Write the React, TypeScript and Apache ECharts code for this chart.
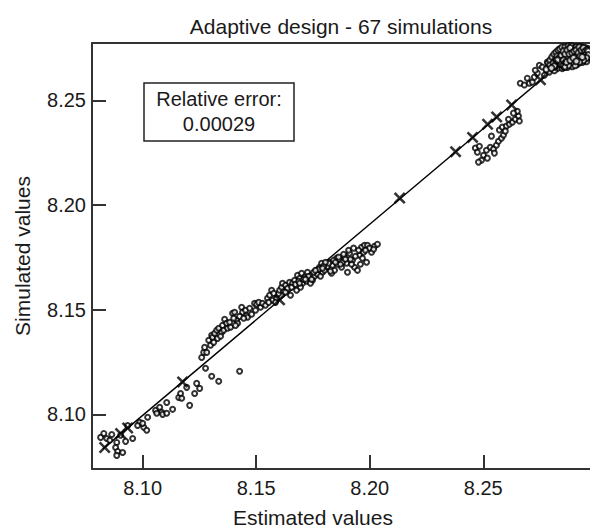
import React, { useEffect, useRef } from "react";
import * as echarts from "echarts";

const titleText = "Adaptive design - 67 simulations";
const xName = "Estimated values";
const yName = "Simulated values";
const boxLines = ["Relative error:", "0.00029"];
const tickValues = [8.1, 8.15, 8.2, 8.25];
const xRange = [8.0777, 8.297];
const yRange = [8.0739, 8.2774];

// validation points, [estimated, simulated]
const lowerCluster = [
  [8.0815, 8.089], [8.0829, 8.0909], [8.0842, 8.0885], [8.0864, 8.0904], [8.0886, 8.0866],
  [8.0881, 8.0842], [8.089, 8.0823], [8.0886, 8.0804], [8.0912, 8.0818], [8.0903, 8.09],
  [8.0925, 8.0871], [8.0956, 8.0885], [8.0987, 8.0962], [8.0978, 8.0947], [8.1005, 8.0938],
  [8.1018, 8.0924], [8.1, 8.0957], [8.1022, 8.0986], [8.1057, 8.1019], [8.1075, 8.1034],
  [8.1084, 8.101], [8.1062, 8.1005], [8.1088, 8.1], [8.1106, 8.1005], [8.1106, 8.1057],
  [8.1132, 8.1024], [8.1159, 8.1081], [8.1167, 8.11], [8.1172, 8.1077], [8.1207, 8.1043],
  [8.1229, 8.11], [8.1194, 8.1129], [8.1238, 8.1148], [8.1277, 8.122], [8.1304, 8.1182],
  [8.1335, 8.1158], [8.1427, 8.1206], [8.1251, 8.1124], [8.0855, 8.0876], [8.0934, 8.0947],
];

const upperBand = [
  [8.126, 8.1272], [8.1269, 8.1296],
  [8.1273, 8.132], [8.1291, 8.1354], [8.1304, 8.1378], [8.1308, 8.1368], [8.1317, 8.1387],
  [8.1326, 8.1402], [8.1335, 8.1411], [8.1348, 8.1392], [8.1352, 8.1425], [8.1361, 8.1454],
  [8.137, 8.1435], [8.1383, 8.144], [8.1396, 8.1483], [8.1405, 8.1488], [8.1414, 8.1449],
  [8.1418, 8.1435], [8.1436, 8.1512], [8.144, 8.1488], [8.1458, 8.1473], [8.1462, 8.1464],
  [8.1493, 8.1531], [8.1502, 8.1526], [8.1519, 8.1512], [8.155, 8.1555], [8.1559, 8.1569],
  [8.1568, 8.1593], [8.1572, 8.1545], [8.159, 8.1555], [8.1599, 8.1578],
  [8.1282, 8.1296], [8.1299, 8.133], [8.1313, 8.1344], [8.133, 8.1363], [8.1343, 8.1373],
  [8.1357, 8.1402], [8.1374, 8.1411], [8.1387, 8.1416], [8.1401, 8.1459], [8.1409, 8.1425],
  [8.1427, 8.1468], [8.1445, 8.1459], [8.1453, 8.1497], [8.1471, 8.1507], [8.148, 8.1478],
  [8.1497, 8.1497], [8.1511, 8.1535], [8.1528, 8.1531], [8.1541, 8.1521], [8.1555, 8.1535],
  [8.1577, 8.1578], [8.1585, 8.1535], [8.1603, 8.1593], [8.1621, 8.1588],
];

const middleBand = [
  [8.1612, 8.1607], [8.1616, 8.1626], [8.1629, 8.1617], [8.1638, 8.1602], [8.1647, 8.1631],
  [8.166, 8.1626], [8.1669, 8.1641], [8.1682, 8.1664], [8.1691, 8.165], [8.17, 8.1674],
  [8.1713, 8.1655], [8.1726, 8.1679], [8.1744, 8.1664], [8.1748, 8.1641], [8.1766, 8.1688],
  [8.1779, 8.1703], [8.1788, 8.1722], [8.1792, 8.1679], [8.181, 8.1698], [8.1823, 8.1727],
  [8.1832, 8.1674], [8.1845, 8.1688], [8.1854, 8.1746], [8.1867, 8.1736], [8.1876, 8.1703],
  [8.1889, 8.1751], [8.1898, 8.1722], [8.1902, 8.1679], [8.1911, 8.177], [8.1924, 8.1736],
  [8.1933, 8.1703], [8.1946, 8.1688], [8.1955, 8.176], [8.1964, 8.1798], [8.1977, 8.1808],
  [8.199, 8.1808], [8.2008, 8.1774], [8.1704, 8.1626], [8.1722, 8.1636], [8.1735, 8.165],
  [8.1757, 8.166], [8.177, 8.1669], [8.1801, 8.1688], [8.1814, 8.1707], [8.1836, 8.1712],
  [8.1858, 8.1717], [8.188, 8.1727], [8.192, 8.1717], [8.1968, 8.1746], [8.1986, 8.1727],
  [8.2021, 8.1803], [8.2034, 8.1813],
  [8.1656, 8.1607], [8.1673, 8.1621], [8.1687, 8.1636], [8.1709, 8.1645], [8.1731, 8.166],
  [8.1753, 8.1679], [8.1775, 8.1693], [8.1797, 8.1708], [8.1819, 8.1722], [8.1841, 8.1736],
  [8.1863, 8.1751], [8.1885, 8.1765], [8.1907, 8.1784], [8.1929, 8.1794], [8.1951, 8.1784],
  [8.1973, 8.1774], [8.1999, 8.1794], [8.2017, 8.1789], [8.1678, 8.1593], [8.1695, 8.1607],
  [8.1739, 8.1626], [8.1783, 8.166], [8.1827, 8.1684], [8.1871, 8.1717], [8.1915, 8.1741],
  [8.1959, 8.1717], [8.1629, 8.1583], [8.1651, 8.1569],
  [8.1691, 8.1626], [8.1717, 8.1645], [8.1744, 8.1645], [8.1761, 8.1688], [8.1792, 8.1698],
  [8.1805, 8.1727], [8.1849, 8.1727], [8.1893, 8.1741], [8.1937, 8.1755], [8.1981, 8.1784],
];

const rightCluster = [
  [8.2465, 8.2272], [8.2483, 8.2281], [8.2474, 8.2252], [8.2501, 8.2238], [8.2514, 8.2262],
  [8.2531, 8.2276], [8.2545, 8.2267], [8.2558, 8.2286], [8.2567, 8.2305], [8.258, 8.2319],
  [8.2589, 8.2334], [8.2571, 8.2358], [8.2584, 8.2372], [8.2602, 8.2377], [8.2615, 8.2386],
  [8.2628, 8.2396], [8.2641, 8.241], [8.2655, 8.2425], [8.265, 8.2448], [8.2633, 8.2439],
  [8.2597, 8.2353], [8.2549, 8.2248], [8.2518, 8.2224], [8.2492, 8.2214], [8.2479, 8.2205],
  [8.2536, 8.2329], [8.2611, 8.241], [8.2659, 8.2401],
];

const upperRight = [
  [8.2663, 8.2582], [8.2681, 8.2573], [8.2694, 8.2606], [8.2703, 8.2582], [8.2716, 8.2587],
  [8.2725, 8.2611], [8.2738, 8.263], [8.2747, 8.2668], [8.276, 8.2659], [8.2778, 8.2644],
  [8.2791, 8.2635], [8.2804, 8.2654], [8.2782, 8.2683], [8.2769, 8.262], [8.2729, 8.2644],
];

const topBlob = [
  [8.2791, 8.2663], [8.28, 8.2683], [8.2809, 8.2697], [8.2817, 8.2673], [8.2822, 8.2707],
  [8.2831, 8.2687], [8.2835, 8.2716], [8.2839, 8.2663], [8.2844, 8.2697], [8.2848, 8.273],
  [8.2853, 8.2678], [8.2857, 8.2711], [8.2861, 8.2692], [8.2866, 8.274], [8.287, 8.2721],
  [8.2875, 8.2683], [8.2879, 8.2707], [8.2883, 8.273], [8.2888, 8.2697], [8.2892, 8.2745],
  [8.2897, 8.2716], [8.2901, 8.2687], [8.2905, 8.2726], [8.291, 8.2702], [8.2914, 8.274],
  [8.2919, 8.2711], [8.2923, 8.2692], [8.2927, 8.273], [8.2932, 8.2716], [8.2936, 8.2745],
  [8.2941, 8.2702], [8.2945, 8.2726], [8.2949, 8.2711], [8.2954, 8.2735], [8.2958, 8.2716],
  [8.2963, 8.2726], [8.2826, 8.2654], [8.2813, 8.2644], [8.2861, 8.2668], [8.2883, 8.2673],
  [8.2905, 8.2683], [8.2927, 8.2702], [8.2949, 8.2697], [8.2897, 8.2735], [8.2848, 8.2702],
  [8.287, 8.2697], [8.2914, 8.2716], [8.2936, 8.2726], [8.2958, 8.2702], [8.2804, 8.2659],
  [8.2879, 8.274], [8.2901, 8.275], [8.2923, 8.2745], [8.2945, 8.274], [8.2844, 8.2683],
  [8.2888, 8.2721], [8.2919, 8.2697], [8.2941, 8.2716], [8.2857, 8.2726], [8.2831, 8.2702],
  [8.2778, 8.2649], [8.2787, 8.2678], [8.2795, 8.2692], [8.2804, 8.2707], [8.2813, 8.2721],
  [8.2822, 8.273], [8.2831, 8.274], [8.2839, 8.2745], [8.2848, 8.2754], [8.2861, 8.2754],
  [8.2875, 8.2759], [8.2888, 8.2759], [8.291, 8.2754], [8.2932, 8.2754], [8.2949, 8.275],
  [8.2963, 8.2745], [8.2963, 8.2707], [8.2954, 8.2687], [8.2936, 8.2683], [8.2914, 8.2673],
  [8.2892, 8.2663], [8.287, 8.2659], [8.2848, 8.2654], [8.2817, 8.2692], [8.2826, 8.2711],
  [8.2835, 8.2683], [8.2866, 8.2707], [8.2892, 8.2697], [8.2923, 8.2721], [8.2949, 8.2726],
  [8.2795, 8.2668], [8.2809, 8.2678], [8.2822, 8.2687], [8.2835, 8.2702], [8.2844, 8.2716],
  [8.2853, 8.2735], [8.2861, 8.2721], [8.287, 8.274], [8.2879, 8.2721], [8.2883, 8.275],
  [8.2892, 8.2726], [8.2901, 8.2735], [8.2905, 8.2707], [8.291, 8.274], [8.2919, 8.2726],
  [8.2923, 8.2754], [8.2927, 8.2711], [8.2932, 8.274], [8.2941, 8.275], [8.2945, 8.2711],
  [8.2949, 8.2735], [8.2954, 8.2721], [8.2958, 8.274], [8.2963, 8.2735], [8.2963, 8.2716],
  [8.2954, 8.2702], [8.2941, 8.2692], [8.2923, 8.2683], [8.2905, 8.2668], [8.2888, 8.2683],
  [8.2875, 8.2668], [8.2857, 8.2659], [8.2839, 8.2673], [8.2826, 8.2692], [8.2813, 8.2663],
  [8.28, 8.2654], [8.2853, 8.2692], [8.2866, 8.2683], [8.2883, 8.2692], [8.2897, 8.2702],
  [8.291, 8.2687], [8.2936, 8.2707],
];

// design points (crosses) and the fitted line
const designX = [8.0833, 8.0903, 8.0934, 8.1176, 8.1603, 8.2132, 8.2378, 8.2453, 8.2519, 8.2559, 8.2625, 8.2752, 8.2836];
const designY = [8.0842, 8.0908, 8.0935, 8.1155, 8.1547, 8.2033, 8.2255, 8.2323, 8.2386, 8.2421, 8.2478, 8.2598, 8.2668];
const fitX = [8.0825, 8.2905];
const fitY = [8.0835, 8.2735];

const FONT = "'Liberation Sans', Arial, Helvetica, sans-serif";
const INK = "#1a1a1a";
const AXIS = "#333";
const CROSS = "path://M0,1.5L1.5,0L5,3.5L8.5,0L10,1.5L6.5,5L10,8.5L8.5,10L5,6.5L1.5,10L0,8.5L3.5,5Z";

export default function App() {
  const ref = useRef<HTMLDivElement>(null);
  useEffect(() => {
    if (!ref.current) return;
    const chart = echarts.init(ref.current, undefined, { renderer: "svg" });
    const points = [...lowerCluster, ...upperBand, ...middleBand, ...rightCluster, ...upperRight];
    const tickFmt = (v: number) => v.toFixed(2);
    chart.setOption({
      animation: false,
      backgroundColor: "#fff",
      grid: { left: 92, right: 0, top: 43, bottom: 60 },
      xAxis: [
        {
          type: "value",
          min: xRange[0],
          max: xRange[1],
          position: "bottom",
          splitLine: { show: false },
          axisLine: { show: true, onZero: false, lineStyle: { color: AXIS, width: 2 } },
          axisTick: { show: true, inside: true, length: 14, customValues: tickValues, lineStyle: { color: AXIS, width: 2 } },
          axisLabel: { customValues: tickValues, formatter: tickFmt, fontSize: 20, fontFamily: FONT, color: INK, margin: 9 },
        },
        {
          type: "value",
          min: xRange[0],
          max: xRange[1],
          position: "top",
          splitLine: { show: false },
          axisLine: { show: true, onZero: false, lineStyle: { color: AXIS, width: 2 } },
          axisTick: { show: false },
          axisLabel: { show: false },
        },
      ],
      yAxis: {
        type: "value",
        min: yRange[0],
        max: yRange[1],
        name: yName,
        nameLocation: "middle",
        nameGap: 59,
        nameRotate: 90,
        nameTextStyle: { fontSize: 21, fontFamily: FONT, color: INK },
        splitLine: { show: false },
        axisLine: { show: true, onZero: false, lineStyle: { color: AXIS, width: 2 } },
        axisTick: { show: true, inside: true, length: 14, customValues: tickValues, lineStyle: { color: AXIS, width: 2 } },
        axisLabel: { customValues: tickValues, formatter: tickFmt, fontSize: 20, fontFamily: FONT, color: INK, margin: 6 },
      },
      series: [
        {
          type: "line",
          data: fitX.map((x, i) => [x, fitY[i]]),
          showSymbol: false,
          lineStyle: { color: "#000", width: 1.4 },
          z: 2,
        },
        {
          type: "scatter",
          data: points,
          symbol: "emptyCircle",
          symbolSize: 5,
          itemStyle: { color: "#000", borderColor: "#000", borderWidth: 1 },
          z: 3,
        },
        {
          type: "scatter",
          data: topBlob,
          symbol: "emptyCircle",
          symbolSize: 6,
          itemStyle: { color: "#000", borderColor: "#000", borderWidth: 1.6 },
          z: 3,
        },
        {
          type: "scatter",
          data: designX.map((x, i) => [x, designY[i]]),
          symbol: CROSS,
          symbolSize: 12,
          itemStyle: { color: "#000" },
          z: 4,
        },
      ],
      graphic: [
        {
          type: "text",
          x: 341,
          y: 26,
          style: { text: titleText, font: `21px ${FONT}`, fill: INK, align: "center", verticalAlign: "middle" },
        },
        {
          type: "text",
          x: 313,
          y: 517,
          style: { text: xName, font: `21px ${FONT}`, fill: INK, align: "center", verticalAlign: "middle" },
        },
        {
          type: "rect",
          shape: { x: 144, y: 83, width: 150, height: 58 },
          style: { fill: "#fff", stroke: "#222", lineWidth: 1.5 },
          z: 10,
        },
        {
          type: "text",
          x: 219,
          y: 99,
          style: { text: boxLines[0], font: `20px ${FONT}`, fill: INK, align: "center", verticalAlign: "middle" },
          z: 11,
        },
        {
          type: "text",
          x: 219,
          y: 124,
          style: { text: boxLines[1], font: `20px ${FONT}`, fill: INK, align: "center", verticalAlign: "middle" },
          z: 11,
        },
      ],
    });
    return () => chart.dispose();
  }, []);
  return <div ref={ref} style={{ position: "fixed", left: 0, top: 0, width: 590, height: 529 }} />;
}
